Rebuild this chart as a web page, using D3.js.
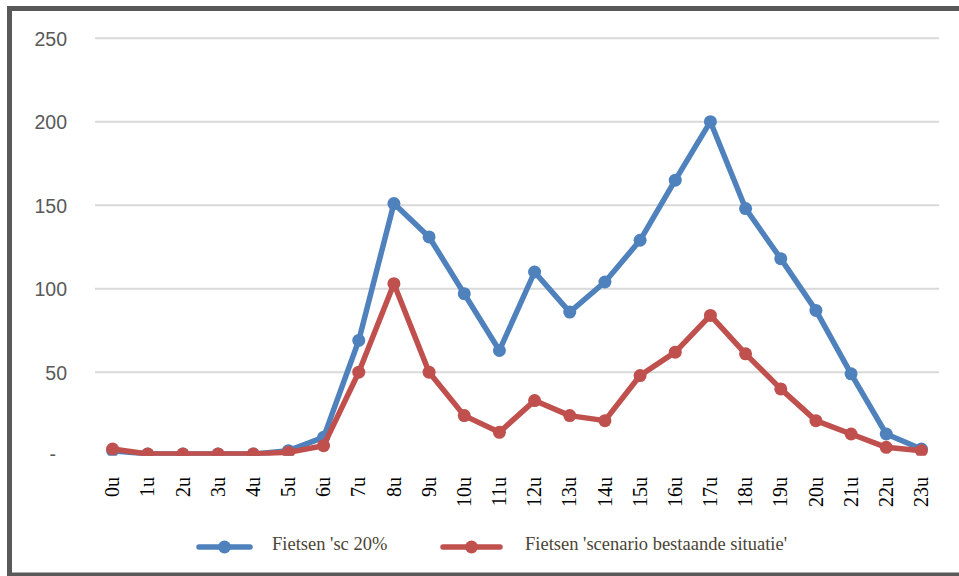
<!DOCTYPE html>
<html>
<head>
<meta charset="utf-8">
<script src="https://cdn.jsdelivr.net/npm/d3@7"></script>
<style>
  html, body { margin: 0; padding: 0; background: #fff; }
  svg { display: block; }
</style>
</head>
<body>
<script>
// Hourly bicycle counts, two scenarios
const hours = ["0u","1u","2u","3u","4u","5u","6u","7u","8u","9u","10u","11u","12u","13u","14u","15u","16u","17u","18u","19u","20u","21u","22u","23u"];
const sc20 = [3, 1, 1, 1, 1, 3, 11, 69, 151, 131, 97, 63, 110, 86, 104, 129, 165, 200, 148, 118, 87, 49, 13, 4];
const bestaand = [4, 1, 1, 1, 1, 2, 6, 50, 103, 50, 24, 14, 33, 24, 21, 48, 62, 84, 61, 40, 21, 13, 5, 3];
const yTicks = [0, 50, 100, 150, 200, 250];
const seriesNames = ["Fietsen 'sc 20%", "Fietsen 'scenario bestaande situatie'"];
const seriesColors = ["#4f81bd", "#c0504d"];

const W = 959, H = 576;
const plot = { left: 95, right: 939, top: 38.2, bottom: 455.7 };

const svg = d3.select("body").append("svg").attr("width", W).attr("height", H);

// outer chart frame
svg.append("rect")
  .attr("x", 9.5).attr("y", 8.5)
  .attr("width", 970).attr("height", 566.5)
  .attr("fill", "none").attr("stroke", "#595959").attr("stroke-width", 5);

const x = d3.scaleBand().domain(hours).range([plot.left, plot.right]);
const y = d3.scaleLinear().domain([0, 250]).range([plot.bottom, plot.top]);
const cx = h => x(h) + x.bandwidth() / 2;

// horizontal gridlines (no line at zero)
svg.append("g").selectAll("line")
  .data(yTicks.filter(v => v > 0))
  .join("line")
  .attr("x1", plot.left).attr("x2", plot.right)
  .attr("y1", d => y(d)).attr("y2", d => y(d))
  .attr("stroke", "#d9d9d9").attr("stroke-width", 2);

// y axis labels
const yAxis = d3.axisLeft(y).tickValues(yTicks).tickSize(0).tickPadding(0)
  .tickFormat(d => d === 0 ? "-" : d);
const yg = svg.append("g").attr("transform", "translate(67,0)").call(yAxis);
yg.select(".domain").remove();
yg.selectAll("text")
  .attr("font-family", "'Liberation Sans', Arial, sans-serif")
  .attr("font-size", 19.5).attr("fill", "#595959")
  .attr("dy", "0.35em");
yg.selectAll(".tick").filter(d => d === 0).select("text")
  .attr("x", -11).attr("dy", "0.25em");

// x axis labels, rotated
const xAxis = d3.axisBottom(x).tickSize(0).tickPadding(0);
const xg = svg.append("g").attr("transform", `translate(0,${477})`).call(xAxis);
xg.select(".domain").remove();
xg.selectAll("text")
  .attr("font-family", "'Liberation Serif', 'Times New Roman', serif")
  .attr("font-size", 20).attr("fill", "#000")
  .attr("transform", "rotate(-90)")
  .attr("text-anchor", "end")
  .attr("x", 0).attr("y", 0).attr("dy", "0.33em");

// plot area clip
svg.append("clipPath").attr("id", "plotClip")
  .append("rect").attr("x", 0).attr("y", 0).attr("width", W).attr("height", plot.bottom);

const line = d3.line().x((d, i) => cx(hours[i])).y(d => y(d));
const series = [sc20, bestaand];
const lines = svg.append("g").attr("clip-path", "url(#plotClip)");
series.forEach((vals, si) => {
  const g = lines.append("g");
  g.append("path").datum(vals)
    .attr("d", line).attr("fill", "none")
    .attr("stroke", seriesColors[si]).attr("stroke-width", 5.5)
    .attr("stroke-linejoin", "round").attr("stroke-linecap", "round");
  g.selectAll("circle").data(vals).join("circle")
    .attr("cx", (d, i) => cx(hours[i])).attr("cy", d => y(d))
    .attr("r", 6.5).attr("fill", seriesColors[si]);
});

// legend
const legendItems = [
  { x1: 199, x2: 250, tx: 272 },
  { x1: 443, x2: 500, tx: 525 }
];
const ly = 547;
legendItems.forEach((it, i) => {
  const g = svg.append("g");
  g.append("line").attr("x1", it.x1).attr("x2", it.x2).attr("y1", ly).attr("y2", ly)
    .attr("stroke", seriesColors[i]).attr("stroke-width", 5.5).attr("stroke-linecap", "round");
  g.append("circle").attr("cx", (it.x1 + it.x2) / 2).attr("cy", ly).attr("r", 6.5)
    .attr("fill", seriesColors[i]);
  g.append("text").attr("x", it.tx).attr("y", 550)
    .attr("font-family", "'Liberation Serif', 'Times New Roman', serif")
    .attr("font-size", 18.5).attr("fill", "#4b4536")
    .text(seriesNames[i]);
});
</script>
</body>
</html>
